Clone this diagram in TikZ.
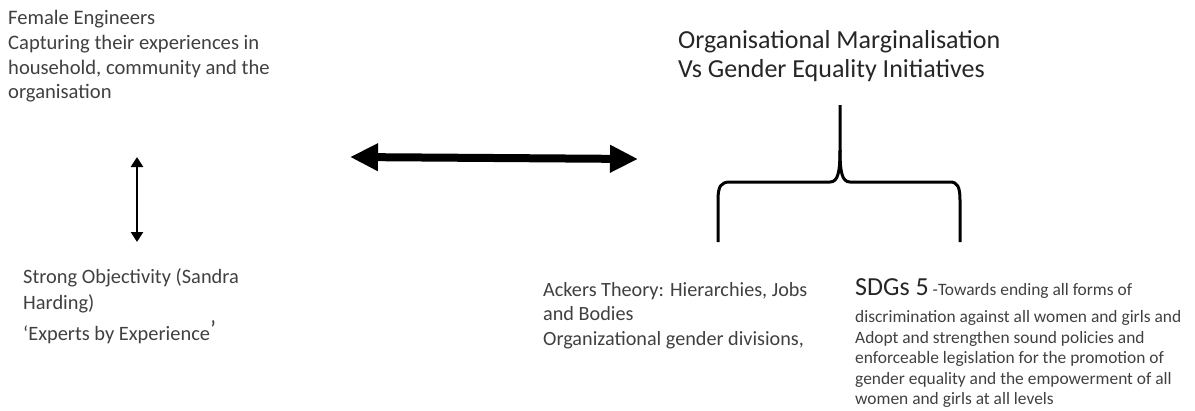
\documentclass[tikz,border=0pt]{standalone}
\usepackage{fontspec}
\setmainfont{Carlito}
\usetikzlibrary{arrows.meta}
\tikzset{
  txt/.style={anchor=north west, align=left, inner sep=0pt, text=black!75},
  thinarrow/.style={line width=2.6pt, {Triangle[length=10pt,width=12pt]}-{Triangle[length=10pt,width=12pt]}},
  fatarrow/.style={line width=8pt, {Triangle[length=28pt,width=26pt]}-{Triangle[length=28pt,width=26pt]}},
  bracebar/.style={line width=3pt, line join=round}
}
\begin{document}
\begin{tikzpicture}[x=1pt,y=-1pt]
        \useasboundingbox (0,0) rectangle (1195,410);
        % text blocks
        \node[txt, font=\fontsize{20.6}{24.8}\selectfont] (eng) at (8,10) {Female Engineers\\Capturing their experiences in\\household, community and the\\organisation};
        \node[txt, font=\fontsize{26}{29}\selectfont, text=black!85] (title) at (678,30) {Organisational Marginalisation\\Vs Gender Equality Initiatives};
        \node[txt, font=\fontsize{20.4}{26.5}\selectfont] (strong) at (23,268) {Strong Objectivity (Sandra\\Harding)};
        \node[txt, font=\fontsize{20.4}{25}\selectfont] (experts) at (23,320) {‘Experts by Experience\raisebox{3pt}{\fontsize{24}{24}\selectfont ’}};
        \node[txt, font=\fontsize{20.2}{24.5}\selectfont] (ackers) at (543,282) {Ackers Theory: Hierarchies, Jobs\\and Bodies\\Organizational gender divisions,};
        \node[txt, font=\fontsize{17.4}{20.5}\selectfont] (sdg) at (855,278) {{\fontsize{26}{26}\selectfont\color{black!85}SDGs 5} -Towards ending all forms of\\[7pt]discrimination against all women and girls and\\Adopt and strengthen sound policies and\\enforceable legislation for the promotion of\\gender equality and the empowerment of all\\women and girls at all levels};
        % arrow ends
        \coordinate (vtop) at (137,157);
        \coordinate (vbot) at (137,242);
        \coordinate (hl) at (350,157);
        \coordinate (hr) at (638,159);
        \draw[thinarrow] (vtop) -- (vbot);
        \draw[fatarrow] (hl) -- (hr);
        % brace
        \coordinate (stem) at (840,105);
        \coordinate (bl) at (718,242);
        \coordinate (br) at (960,242);
        \draw[bracebar] (bl) -- (718,200) .. controls (718,186) and (721,182) .. (730,182)
            -- (830,182) .. controls (838,182) and (840,172) .. (840,150) -- (stem);
        \draw[bracebar] (br) -- (960,200) .. controls (960,186) and (957,182) .. (950,182)
            -- (850,182) .. controls (842,182) and (840,172) .. (840,150);
\end{tikzpicture}
\end{document}
